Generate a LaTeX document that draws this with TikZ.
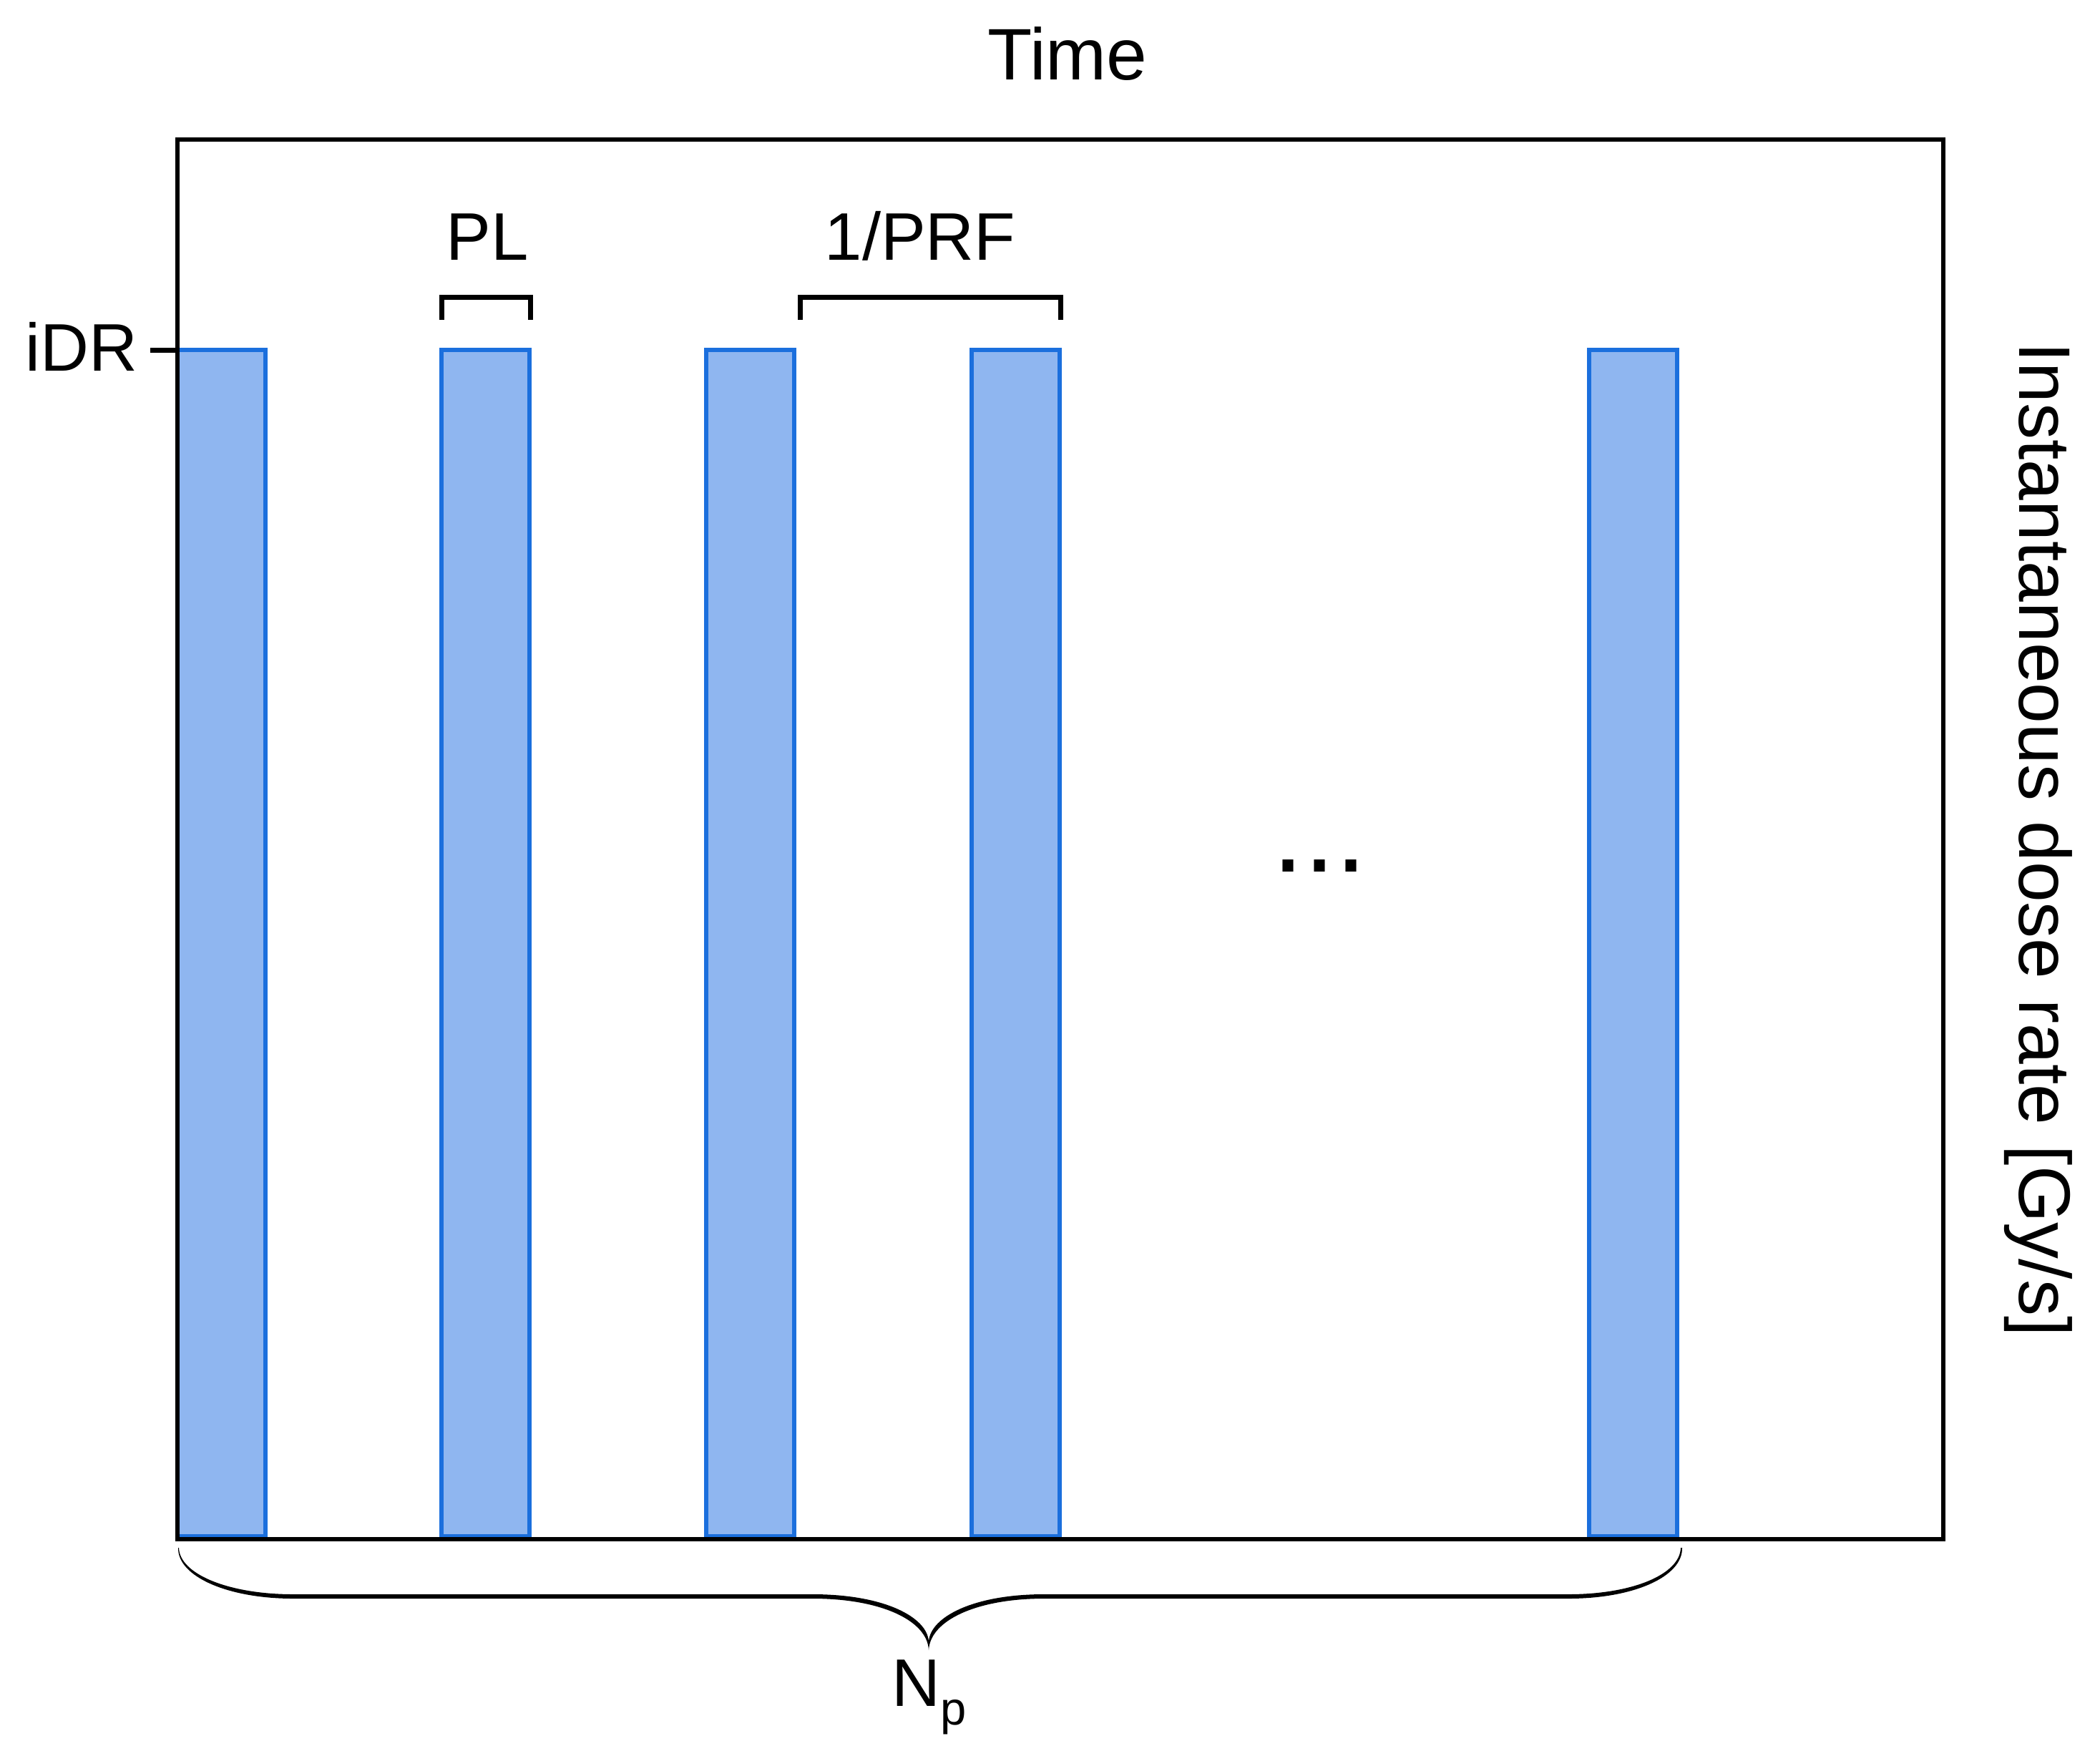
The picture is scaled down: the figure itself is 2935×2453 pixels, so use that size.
\documentclass[tikz,border=0pt]{standalone}
\usepackage{fontspec}
\setmainfont{Liberation Sans}
\definecolor{barfill}{HTML}{8FB6F0}
\definecolor{barline}{HTML}{1B6FDD}
\begin{document}
\begin{tikzpicture}[x=0.01cm,y=-0.01cm,
  bar/.style={fill=barfill,draw=barline,line width=0.06cm},
  lbl/.style={inner sep=0pt,anchor=base,font=\fontsize{26.75}{30}\selectfont},
  big/.style={font=\fontsize{29}{32}\selectfont},
  brk/.style={line width=0.07cm,line join=miter}]
\useasboundingbox (0,0) rectangle (2935,2453);
\fill[white] (0,0) rectangle (2935,2453);
% pulses
\foreach \l in {248,617,987,1358,2221}
  \draw[bar] (\l,489) rectangle ++(123,1658);
% frame
\draw[line width=0.06cm] (247.5,195) rectangle (2716,2151);
% iDR tick
\draw[line width=0.07cm] (210,489) -- (247,489);
% brackets
\draw[brk] (617.5,447) -- (617.5,415) -- (741.5,415) -- (741.5,447);
\draw[brk] (1118,447) -- (1118,415) -- (1482,415) -- (1482,447);
% brace
\fill (249,2163) .. controls (248,2203) and (318,2234) .. (410,2234) -- (1136,2234)
  .. controls (1230,2234) and (1296,2264) .. (1298,2306)
  .. controls (1300,2264) and (1366,2234) .. (1459,2234) -- (2192,2234)
  .. controls (2284,2234) and (2352,2203) .. (2351,2163)
  -- (2349,2163) .. controls (2348,2200) and (2282,2228) .. (2192,2228) -- (1459,2228)
  .. controls (1360,2228) and (1300,2260) .. (1298,2294)
  .. controls (1296,2260) and (1236,2228) .. (1136,2228) -- (410,2228)
  .. controls (320,2228) and (251,2200) .. (250,2163) -- cycle;
% labels
\node[lbl,big] (time) at (1492,111) {Time};
\node[lbl] (pl) at (681,363) {PL};
\node[lbl] (prf) at (1286,363) {1/PRF};
\node[lbl,anchor=base east] (idr) at (193,518) {iDR};
\node[lbl] (np) at (1299,2384) {N\raisebox{-7.4pt}{\fontsize{18.5}{20}\selectfont p}};
\node[lbl,font=\fontsize{45}{50}\selectfont] (dots) at (1844,1218) {...};
\node[lbl,big,rotate=-90] (ylab) at (2822,1173) {Instantaneous dose rate [Gy/s]};
\end{tikzpicture}
\end{document}
